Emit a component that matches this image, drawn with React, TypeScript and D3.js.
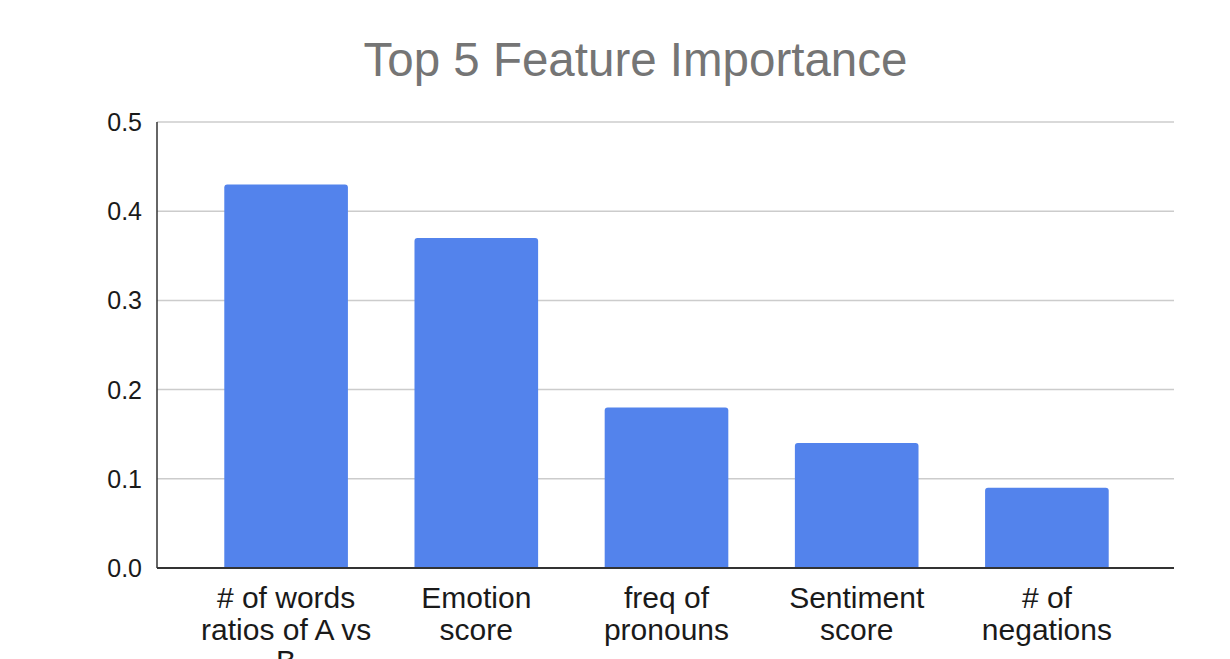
import React from "react";
import * as d3 from "d3";

const categories: string[][] = [
  ["# of words", "ratios of A vs", "B"],
  ["Emotion", "score"],
  ["freq of", "pronouns"],
  ["Sentiment", "score"],
  ["# of", "negations"],
];
const values: number[] = [0.43, 0.37, 0.18, 0.14, 0.09];
const yTicks: number[] = [0, 0.1, 0.2, 0.3, 0.4, 0.5];
const title = "Top 5 Feature Importance";

const W = 1230;
const H = 659;
const plotLeft = 157;
const plotRight = 1174;
const plotTop = 122;
const plotBottom = 568;

export default function App() {
  const idx = categories.map((_, i) => String(i));
  const x = d3.scaleBand<string>().domain(idx).range([191, 1142]).paddingInner(0.35).paddingOuter(0.175);
  const y = d3.scaleLinear().domain([0, 0.5]).range([plotBottom, plotTop]);
  const r = 3;
  const barPath = (i: number) => {
    const x0 = x(String(i))!;
    const w = x.bandwidth();
    const y0 = y(values[i]);
    const yb = y(0);
    return `M${x0},${yb}V${y0 + r}Q${x0},${y0} ${x0 + r},${y0}H${x0 + w - r}Q${x0 + w},${y0} ${x0 + w},${y0 + r}V${yb}Z`;
  };
  const font = "Liberation Sans, Arial, sans-serif";
  return (
    <svg width={W} height={H} style={{ position: "absolute", left: 0, top: 0, background: "#fff" }} fontFamily={font}>
      <rect width={W} height={H} fill="#fff" />
      <text x={635.5} y={76} textAnchor="middle" fontSize={47.5} fill="#757575">{title}</text>
      {yTicks.map((t) => (
        <g key={t}>
          {t > 0 && <line x1={plotLeft} x2={plotRight} y1={y(t)} y2={y(t)} stroke="#cccccc" strokeWidth={1.5} />}
          <text x={142} y={y(t) + 9} textAnchor="end" fontSize={25} fill="#1a1a1a">{d3.format(".1f")(t)}</text>
        </g>
      ))}
      {values.map((v, i) => (
        <path key={i} d={barPath(i)} fill="#5383ec" />
      ))}
      <line x1={plotLeft} x2={plotRight} y1={plotBottom} y2={plotBottom} stroke="#333" strokeWidth={2} />
      <line x1={plotLeft} x2={plotLeft} y1={plotTop} y2={plotBottom} stroke="#333" strokeWidth={1.5} />
      {categories.map((lines, i) => (
        <text key={i} x={x(String(i))! + x.bandwidth() / 2} textAnchor="middle" fontSize={30} fill="#1a1a1a">
          {lines.map((l, j) => (
            <tspan key={j} x={x(String(i))! + x.bandwidth() / 2} y={608 + j * 31.5}>{l}</tspan>
          ))}
        </text>
      ))}
    </svg>
  );
}
